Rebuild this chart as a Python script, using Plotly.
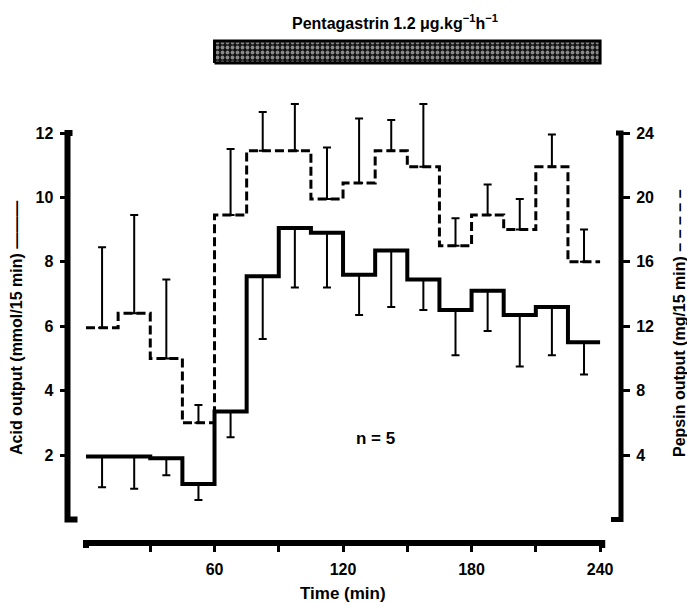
import plotly.graph_objects as go

# ---- data ----
period_edges = [0, 15, 30, 45, 60, 75, 90, 105, 120, 135, 150, 165, 180, 195, 210, 225, 240]
period_mid = [7.5, 22.5, 37.5, 52.5, 67.5, 82.5, 97.5, 112.5, 127.5, 142.5, 157.5, 172.5, 187.5, 202.5, 217.5, 232.5]

acid_output = [1.95, 1.95, 1.9, 1.1, 3.35, 7.55, 9.05, 8.9, 7.6, 8.35, 7.45, 6.5, 7.1, 6.35, 6.6, 5.5]
acid_sem = [0.95, 1.0, 0.53, 0.5, 0.8, 1.95, 1.85, 1.7, 1.25, 1.75, 0.95, 1.4, 1.25, 1.6, 1.5, 1.0]

pepsin_output = [11.9, 12.8, 10.0, 6.0, 18.9, 22.9, 22.9, 19.9, 20.9, 22.9, 21.9, 17.0, 18.9, 18.0, 21.9, 16.0]
pepsin_sem = [5.0, 6.1, 4.9, 1.1, 4.1, 2.4, 2.9, 3.2, 4.0, 1.9, 3.9, 1.7, 1.9, 1.9, 2.0, 2.0]

infusion = [60, 240]

x_ticks = [60, 120, 180, 240]
x_minor_ticks = [30, 90, 150, 210]
acid_ticks = [2, 4, 6, 8, 10, 12]
pepsin_ticks = [4, 8, 12, 16, 20, 24]

# ---- geometry ----
W, H = 687, 605
ML, MR, MT, MB = 50, 50, 30, 62
PW, PH = W - ML - MR, H - MT - MB
X0PX, PXMIN = 86.0, 2.142          # pixel of t=0, px per minute
Y0PX, PXUNIT = 519.4, 32.2         # pixel of acid 0, px per acid unit
AXB = H - MB                       # bottom of plot area (x-axis line)

xr = [(ML - X0PX) / PXMIN, (W - MR - X0PX) / PXMIN]
ymin = -(AXB - Y0PX) / PXUNIT
ymax = ymin + PH / PXUNIT
left_pos = (67.5 - ML) / PW
right_pos = (621 - ML) / PW

FONT = dict(family="Liberation Sans", size=16, color="black", weight="bold")
FONT17 = dict(family="Liberation Sans", size=17, color="black", weight="bold")

fig = go.Figure()

acid_y = acid_output + [acid_output[-1]]
pep_y = pepsin_output + [pepsin_output[-1]]

fig.add_trace(go.Scatter(
    x=period_mid, y=acid_output, mode="markers", marker=dict(size=1, color="black"),
    error_y=dict(type="data", symmetric=False, array=[0] * len(acid_sem), arrayminus=acid_sem,
                 color="black", thickness=2, width=4),
    yaxis="y", showlegend=False, hoverinfo="skip"))
fig.add_trace(go.Scatter(
    x=period_mid, y=pepsin_output, mode="markers", marker=dict(size=1, color="black"),
    error_y=dict(type="data", symmetric=False, array=pepsin_sem, arrayminus=[0] * len(pepsin_sem),
                 color="black", thickness=2, width=4),
    yaxis="y2", showlegend=False, hoverinfo="skip"))
fig.add_trace(go.Scatter(
    x=period_edges, y=acid_y, mode="lines", line=dict(shape="hv", color="black", width=4),
    yaxis="y", showlegend=False))
fig.add_trace(go.Scatter(
    x=period_edges, y=pep_y, mode="lines",
    line=dict(shape="hv", color="black", width=3, dash="9px,4px"),
    yaxis="y2", showlegend=False))

# pentagastrin infusion bar
fig.add_trace(go.Scatter(
    x=[infusion[0], infusion[1], infusion[1], infusion[0], infusion[0]],
    y=[0, 0, 1, 1, 0], mode="lines", fill="toself",
    fillpattern=dict(shape=".", bgcolor="#111111", fgcolor="white", size=5, solidity=0.45),
    fillcolor="black", line=dict(color="black", width=3),
    yaxis="y3", showlegend=False, hoverinfo="skip"))

bar_top_px, bar_bot_px = 41, 63
bu = bar_bot_px - bar_top_px
pad = 6
y3_dom = [(AXB - (bar_bot_px + pad)) / PH, (AXB - (bar_top_px - pad)) / PH]
y3_rng = [-pad / bu, 1 + pad / bu]

fig.update_layout(
    width=W, height=H, margin=dict(l=ML, r=MR, t=MT, b=MB, autoexpand=False),
    plot_bgcolor="white", paper_bgcolor="white", font=FONT,
    xaxis=dict(range=xr, domain=[0, 1], showgrid=False, zeroline=False, showline=False,
               tickvals=x_ticks, ticks="outside", ticklen=8, tickwidth=3,
               tickcolor="black", tickfont=FONT, ticklabelstandoff=4, anchor="y",
               automargin=False,
               minor=dict(tickvals=x_minor_ticks, ticks="outside", ticklen=8, tickwidth=3,
                          tickcolor="black", showgrid=False)),
    yaxis=dict(range=[ymin, ymax], domain=[0, 1], showgrid=False, zeroline=False, showline=False,
               tickvals=acid_ticks, ticks="outside", ticklen=8, tickwidth=3, tickcolor="black",
               tickfont=FONT, anchor="free", position=left_pos, ticklabelstandoff=3,
               automargin=False),
    yaxis2=dict(range=[2 * ymin, 2 * ymax], overlaying="y", side="right", showgrid=False,
                zeroline=False, showline=False, tickvals=pepsin_ticks, ticks="outside",
                ticklen=8, tickwidth=3, tickcolor="black", tickfont=FONT,
                anchor="free", position=right_pos, ticklabelstandoff=3, automargin=False),
    yaxis3=dict(domain=y3_dom, range=y3_rng, visible=False, anchor="x"),
)

# axis lines with hooked ends
hx = 5 / PW
hy = 5 / PH
fig.add_shape(type="path", xref="paper", yref="y",
              path=f"M {left_pos + hx},12 L {left_pos},12 L {left_pos},0 L {left_pos + 2 * hx},0",
              line=dict(color="black", width=6), layer="above")
fig.add_shape(type="path", xref="paper", yref="y2",
              path=f"M {right_pos - hx},24 L {right_pos},24 L {right_pos},0 L {right_pos - 2 * hx},0",
              line=dict(color="black", width=5), layer="above")
fig.add_shape(type="path", xref="x", yref="paper",
              path=f"M 0,{-hy} L 0,0 L 241,0 L 241,{-hy}",
              line=dict(color="black", width=6), layer="above")

# texts
fig.add_annotation(x=(395 - ML) / PW, y=(AXB - 22) / PH, xref="paper", yref="paper",
                   text="Pentagastrin 1.2 μg.kg<sup>−1</sup>h<sup>−1</sup>", showarrow=False,
                   font=FONT, xanchor="center", yanchor="middle")
fig.add_annotation(x=120, y=(AXB - 593) / PH, xref="x", yref="paper", text="Time (min)",
                   showarrow=False, font=FONT17, xanchor="center", yanchor="middle")
fig.add_annotation(x=135, y=2.5, xref="x", yref="y", text="n = 5", showarrow=False,
                   font=FONT17, xanchor="center", yanchor="middle")
fig.add_annotation(x=(16 - ML) / PW, y=(AXB - 328) / PH, xref="paper", yref="paper",
                   text="Acid output (mmol/15 min) ———", textangle=-90, showarrow=False,
                   font=FONT, xanchor="center", yanchor="middle")
fig.add_annotation(x=(679 - ML) / PW, y=(AXB - 323) / PH, xref="paper", yref="paper",
                   text="Pepsin output (mg/15 min) – – – – –", textangle=-90, showarrow=False,
                   font=FONT, xanchor="center", yanchor="middle")

fig.write_html("out.html")
